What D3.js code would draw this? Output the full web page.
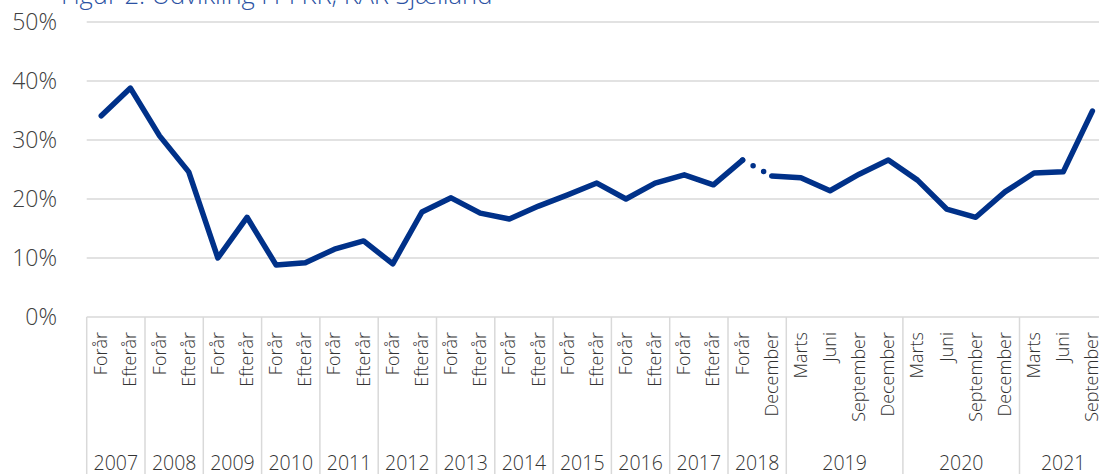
<!DOCTYPE html>
<html>
<head>
<meta charset="utf-8">
<script src="https://cdn.jsdelivr.net/npm/d3@7"></script>
<style>
  body { margin: 0; background: #fff; }
  svg { display: block; font-family: "Open Sans", "Noto Sans", sans-serif; font-weight: 300; }
</style>
</head>
<body>
<div id="chart"></div>
<script>
// chart data
var categories = [
  "Forår", "Efterår", "Forår", "Efterår", "Forår", "Efterår", "Forår", "Efterår",
  "Forår", "Efterår", "Forår", "Efterår", "Forår", "Efterår", "Forår", "Efterår",
  "Forår", "Efterår", "Forår", "Efterår", "Forår", "Efterår",
  "Forår", "December",
  "Marts", "Juni", "September", "December",
  "Marts", "Juni", "September", "December",
  "Marts", "Juni", "September"
];
var years = ["2007", "2008", "2009", "2010", "2011", "2012", "2013", "2014", "2015",
  "2016", "2017", "2018", "2019", "2020", "2021"];
var yearCounts = [2, 2, 2, 2, 2, 2, 2, 2, 2, 2, 2, 2, 4, 4, 3];
var values = [
  34.1, 38.8, 30.7, 24.6, 10.0, 16.9, 8.8, 9.2, 11.5, 12.9, 9.0, 17.8,
  20.2, 17.6, 16.6, 18.8, 20.7, 22.7, 20.0, 22.7, 24.1, 22.4,
  26.6, 23.9,
  23.6, 21.4, 24.2, 26.6,
  23.2, 18.3, 16.9, 21.2,
  24.4, 24.6, 34.9
];
var yTicks = [0, 10, 20, 30, 40, 50];
var title = "Figur 2: Udvikling i PFKR, KAR Sjælland";
// the dotted piece sits between these two points
var gapAfter = 22;

// svg dimensions
var svgWidth = 1099;
var svgHeight = 474;
var plotLeft = 86.7;
var bandW = 29.15;
var plotTop = 22;
var plotBottom = 317;

var svg = d3.select("#chart")
  .append("svg")
  .attr("width", svgWidth)
  .attr("height", svgHeight);

// scales
var xScale = d3.scaleBand()
  .domain(d3.range(categories.length))
  .range([plotLeft, plotLeft + bandW * categories.length]);

var yScale = d3.scaleLinear()
  .domain([0, 50])
  .range([plotBottom, plotTop]);

var xc = i => xScale(i) + xScale.bandwidth() / 2;

// title (cut off at the top like the original)
svg.append("text")
  .attr("x", 61)
  .attr("y", 4)
  .attr("fill", "#2B52A3")
  .attr("font-size", 25.5)
  .text(title);

// gridlines
svg.append("g")
  .selectAll("line")
  .data(yTicks.slice(1))
  .enter()
  .append("line")
  .attr("x1", plotLeft)
  .attr("x2", svgWidth)
  .attr("y1", d => yScale(d))
  .attr("y2", d => yScale(d))
  .attr("stroke", "#d9d9d9")
  .attr("stroke-width", 1.5);

// y axis labels
var leftAxis = d3.axisLeft(yScale)
  .tickValues(yTicks)
  .tickSize(0)
  .tickPadding(0)
  .tickFormat(d => d + "%");

var yAxisG = svg.append("g")
  .attr("transform", "translate(57,0)")
  .call(leftAxis);
yAxisG.attr("font-family", null).attr("font-size", null);
yAxisG.select(".domain").remove();
yAxisG.selectAll("text")
  .attr("font-size", 23)
  .attr("fill", "#404040");

// x axis base line
svg.append("line")
  .attr("x1", plotLeft)
  .attr("x2", svgWidth)
  .attr("y1", plotBottom)
  .attr("y2", plotBottom)
  .attr("stroke", "#d9d9d9")
  .attr("stroke-width", 1.5);

// year group separators
var starts = [0];
yearCounts.forEach(function(c, i) { starts.push(starts[i] + c); });

svg.append("g")
  .selectAll("line")
  .data(starts)
  .enter()
  .append("line")
  .attr("x1", d => plotLeft + d * bandW)
  .attr("x2", d => plotLeft + d * bandW)
  .attr("y1", plotBottom)
  .attr("y2", svgHeight)
  .attr("stroke", "#d9d9d9")
  .attr("stroke-width", 1.5);

// category labels, rotated
svg.append("g")
  .selectAll("text")
  .data(categories)
  .enter()
  .append("text")
  .attr("transform", (d, i) => `translate(${xc(i) + 6}, 332) rotate(-90)`)
  .attr("text-anchor", "end")
  .attr("font-size", 18)
  .attr("fill", "#333")
  .text(d => d);

// year labels
svg.append("g")
  .selectAll("text")
  .data(years)
  .enter()
  .append("text")
  .attr("x", (d, i) => plotLeft + (starts[i] + yearCounts[i] / 2) * bandW)
  .attr("y", 470)
  .attr("text-anchor", "middle")
  .attr("font-size", 19.5)
  .attr("fill", "#333")
  .text(d => d);

// the line
var line = d3.line()
  .x(d => xc(d.i))
  .y(d => yScale(d.v));

var pts = values.map((v, i) => ({ i: i, v: v }));

[pts.slice(0, gapAfter + 1), pts.slice(gapAfter + 1)].forEach(function(seg) {
  svg.append("path")
    .datum(seg)
    .attr("d", line)
    .attr("fill", "none")
    .attr("stroke", "#003189")
    .attr("stroke-width", 5.5)
    .attr("stroke-linejoin", "round")
    .attr("stroke-linecap", "round");
});

svg.append("path")
  .datum(pts.slice(gapAfter, gapAfter + 2))
  .attr("d", line)
  .attr("fill", "none")
  .attr("stroke", "#003189")
  .attr("stroke-width", 5.5)
  .attr("stroke-linecap", "round")
  .attr("stroke-dasharray", "0 12");
</script>
</body>
</html>
